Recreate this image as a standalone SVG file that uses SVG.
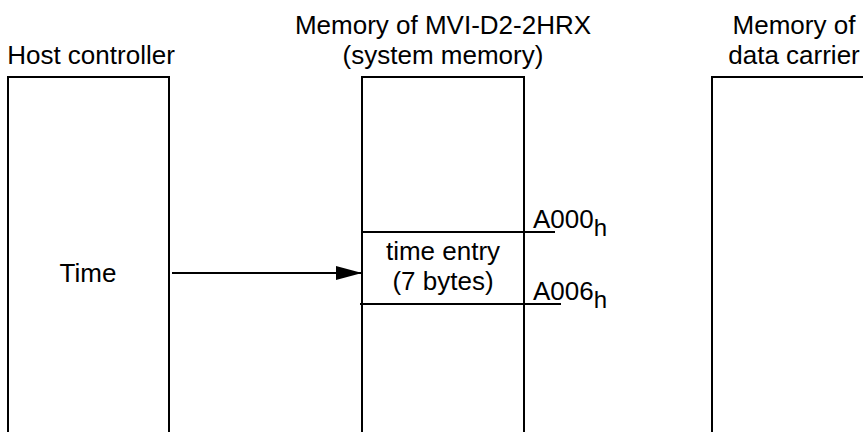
<svg xmlns="http://www.w3.org/2000/svg" width="863" height="432" viewBox="0 0 863 432">
<defs>
<style>
text{font-family:"Liberation Sans",Arial,sans-serif;font-size:26px;fill:#000}
.ln{stroke:#000;stroke-width:2;fill:none}
</style>
<marker id="ah" markerWidth="26" markerHeight="14" refX="26" refY="7" orient="auto" markerUnits="userSpaceOnUse">
<path d="M0,0 L26,7 L0,14 Z" fill="#000"/>
</marker>
</defs>
<rect width="863" height="432" fill="#fff"/>
<g id="host">
<text x="91" y="64" text-anchor="middle">Host controller</text>
<path class="ln" d="M8,433 V77 H169 V433"/>
<text x="88" y="282" text-anchor="middle">Time</text>
</g>
<g id="system-memory">
<text x="443" y="34" text-anchor="middle">Memory of MVI-D2-2HRX</text>
<text x="443" y="64" text-anchor="middle">(system memory)</text>
<path class="ln" d="M362,433 V77 H524 V433"/>
</g>
<g id="time-entry">
<path class="ln" d="M362,232 H555"/>
<path class="ln" d="M360,304 H561"/>
<text x="443" y="260" text-anchor="middle">time entry</text>
<text x="443" y="290" text-anchor="middle">(7 bytes)</text>
<text x="533" y="228">A000<tspan dy="8" font-size="24">h</tspan></text>
<text x="533" y="300">A006<tspan dy="8" font-size="24">h</tspan></text>
</g>
<g id="data-carrier">
<text x="794" y="34" text-anchor="middle">Memory of</text>
<text x="794" y="64" text-anchor="middle">data carrier</text>
<path class="ln" d="M712,433 V77 H875"/>
</g>
<g id="connectors">
<path class="ln" d="M172,273 H362" marker-end="url(#ah)"/>
</g>
</svg>
